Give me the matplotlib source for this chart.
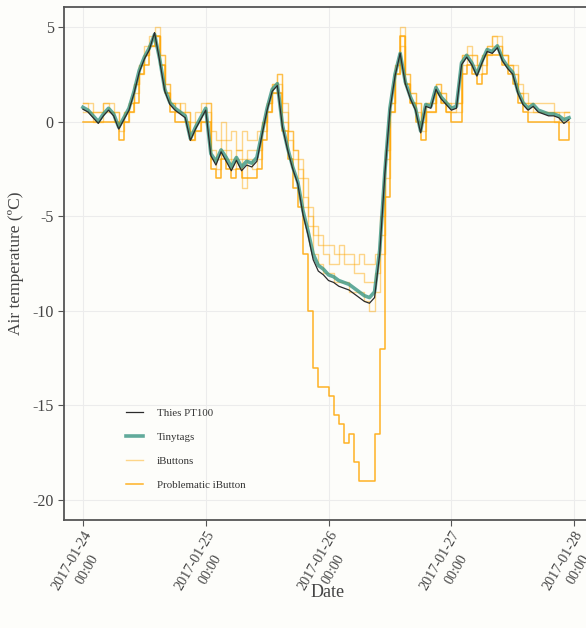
import numpy as np
import pandas as pd
import matplotlib
matplotlib.use("Agg")
import matplotlib.pyplot as plt
import matplotlib.transforms as mtransforms

plt.rcParams['font.family'] = ['Liberation Serif', 'DejaVu Serif']

# hourly readings, 2017-01-24 00:00 onwards
times = pd.date_range("2017-01-24 00:00", periods=96, freq="h")

pt100 = [0.65, 0.5, 0.2, -0.1, 0.3, 0.6, 0.3, -0.4, 0.1, 0.6, 1.5, 2.6, 3.3, 3.8, 4.7, 3.2, 1.6, 0.9, 0.6, 0.4, 0.2, -1.0, -0.4, 0.1,
         0.6, -1.8, -2.3, -1.6, -2.1, -2.6, -2.05, -2.6, -2.3, -2.4, -2.1, -0.7, 0.6, 1.6, 1.9, -0.3, -1.5, -2.5, -3.3, -4.9, -6.0, -7.3, -7.9, -8.1,
         -8.4, -8.5, -8.7, -8.8, -8.9, -9.1, -9.3, -9.5, -9.6, -9.3, -7.0, -2.8, 0.6, 2.4, 3.6, 2.0, 1.2, 0.6, -0.6, 0.8, 0.7, 1.7, 1.2, 0.9,
         0.6, 0.7, 3.0, 3.4, 3.0, 2.4, 3.1, 3.7, 3.6, 3.9, 3.2, 2.8, 2.5, 1.5, 0.9, 0.6, 0.8, 0.5, 0.4, 0.3, 0.3, 0.2, -0.1, 0.1]

tinytag = [0.75, 0.6, 0.3, 0.0, 0.4, 0.7, 0.4, -0.3, 0.2, 0.7, 1.6, 2.7, 3.4, 3.9, 4.6, 3.3, 1.7, 1.0, 0.7, 0.5, 0.3, -0.9, -0.3, 0.2,
           0.7, -1.7, -2.1, -1.5, -1.9, -2.4, -1.9, -2.4, -2.1, -2.2, -1.9, -0.6, 0.7, 1.7, 2.0, -0.2, -1.4, -2.4, -3.2, -4.7, -5.8, -7.0, -7.6, -7.8,
           -8.1, -8.2, -8.4, -8.5, -8.6, -8.8, -9.0, -9.2, -9.3, -9.0, -6.8, -2.7, 0.7, 2.5, 3.6, 2.1, 1.3, 0.7, -0.5, 0.9, 0.8, 1.8, 1.3, 1.0,
           0.7, 0.8, 3.1, 3.5, 3.1, 2.5, 3.2, 3.8, 3.7, 4.0, 3.3, 2.9, 2.6, 1.6, 1.0, 0.7, 0.9, 0.6, 0.5, 0.4, 0.4, 0.3, 0.1, 0.2]

ibutton_a = [1.0, 1.0, 0.5, 0.5, 1.0, 1.0, 0.5, 0.0, 0.5, 1.0, 2.0, 3.0, 4.0, 4.5, 5.0, 3.5, 2.0, 1.0, 1.0, 0.5, 0.5, 0.0, 0.5, 1.0,
             1.0, -0.5, -1.0, 0.0, -1.0, -0.5, -1.5, -0.5, -1.0, -1.0, -0.5, 0.0, 1.0, 2.0, 2.5, 1.0, -0.5, -1.5, -2.0, -3.0, -4.5, -5.5, -6.0, -6.5,
             -6.5, -7.0, -6.5, -7.0, -7.0, -7.5, -7.0, -7.5, -7.5, -7.0, -5.0, -1.5, 1.0, 3.0, 5.0, 2.5, 1.5, 1.0, 0.0, 1.0, 1.0, 2.0, 1.5, 1.0,
             1.0, 1.0, 3.5, 4.0, 3.5, 3.0, 3.5, 4.0, 4.5, 4.5, 3.5, 3.0, 3.0, 2.0, 1.5, 1.0, 1.0, 1.0, 1.0, 1.0, 0.5, 0.5, 0.5, 0.5]

ibutton_b = [0.5, 0.5, 0.0, 0.0, 0.5, 0.5, 0.0, -0.5, 0.0, 0.5, 1.5, 2.5, 3.5, 4.0, 4.5, 3.0, 1.5, 1.0, 0.5, 0.5, 0.0, -1.0, -0.5, 0.0,
             0.5, -2.0, -2.5, -1.5, -2.0, -2.5, -2.0, -3.5, -2.0, -2.5, -2.0, -0.5, 0.5, 1.5, 2.0, 0.0, -1.0, -2.0, -3.0, -4.5, -5.5, -7.0, -7.5, -8.0,
             -8.0, -8.5, -8.5, -8.5, -9.0, -9.0, -9.0, -9.5, -10.0, -9.0, -7.0, -3.0, 0.5, 2.5, 4.0, 2.0, 1.0, 0.5, -0.5, 0.5, 0.5, 1.5, 1.0, 0.5,
             0.5, 0.5, 3.0, 3.5, 3.0, 2.5, 3.0, 3.5, 4.0, 4.0, 3.5, 3.0, 2.5, 1.5, 1.0, 0.5, 0.5, 0.5, 0.5, 0.5, 0.5, 0.0, 0.0, 0.0]

ibutton_c = [1.0, 0.5, 0.5, 0.5, 1.0, 0.5, 0.5, 0.0, 0.5, 1.0, 2.0, 3.0, 3.5, 4.0, 4.5, 3.5, 2.0, 1.0, 0.5, 1.0, 0.5, -0.5, 0.0, 0.5,
             1.0, -1.5, -2.0, -1.0, -1.5, -2.0, -1.5, -2.0, -1.5, -1.5, -1.5, 0.0, 1.0, 2.0, 2.5, 0.5, -0.5, -1.5, -2.5, -4.0, -5.0, -6.0, -6.5, -7.0,
             -7.5, -7.5, -7.0, -7.5, -7.5, -8.0, -8.0, -8.5, -8.5, -8.0, -6.0, -2.0, 1.0, 3.0, 4.5, 2.5, 1.5, 1.0, 0.0, 1.0, 1.0, 2.0, 1.5, 1.0,
             0.5, 1.0, 3.5, 3.5, 3.5, 3.0, 3.5, 4.0, 4.5, 4.0, 3.5, 3.0, 2.5, 1.5, 1.0, 1.0, 0.5, 0.5, 0.5, 0.5, 0.0, 0.0, 0.5, 0.5]

problematic = [0.0, 0.0, 0.0, 0.0, 0.0, 0.0, 0.0, -1.0, 0.0, 0.5, 1.0, 2.5, 3.0, 4.0, 4.5, 3.0, 1.5, 0.5, 0.0, 0.0, 0.0, -1.0, -0.5, 0.0,
               0.0, -2.5, -3.0, -2.0, -2.5, -3.0, -2.5, -3.0, -3.0, -3.0, -2.5, -1.0, 0.5, 1.5, 1.5, -0.5, -2.0, -3.5, -4.5, -7.0, -10.0, -13.0, -14.0, -14.0,
               -14.5, -15.5, -16.0, -17.0, -16.5, -18.0, -19.0, -19.0, -19.0, -16.5, -12.0, -4.0, 0.5, 2.5, 4.5, 2.0, 1.0, 0.0, -1.0, 0.5, 0.5, 1.5, 1.0, 0.5,
               0.0, 0.0, 2.5, 3.0, 2.5, 2.0, 2.5, 3.5, 3.5, 3.5, 3.0, 2.5, 2.0, 1.0, 0.5, 0.0, 0.0, 0.0, 0.0, 0.0, 0.0, -1.0, -1.0, 0.0]

ibuttons = [ibutton_a, ibutton_b, ibutton_c]

bg = '#fdfdfa'
fig = plt.figure(figsize=(5.86, 6.28), dpi=100, facecolor=bg)
ax = fig.add_axes([64/586, 108/628, 527/586, 513/628], facecolor=bg)

for k, ib in enumerate(ibuttons):
    ax.plot(times, ib, drawstyle='steps-post', color='#FFA500', alpha=0.45, lw=1.0,
            label='iButtons' if k == 0 else None, zorder=2)
ax.plot(times, problematic, drawstyle='steps-post', color='#FFA500', alpha=0.85, lw=1.1,
        label='Problematic iButton', zorder=3)
ax.plot(times, tinytag, color='#3a9683', alpha=0.8, lw=2.6, label='Tinytags', zorder=4)
ax.plot(times, pt100, color='#2b2b2b', lw=0.9, label='Thies PT100', zorder=5)

d0 = pd.Timestamp("2017-01-24")
ax.set_xlim(d0 - pd.Timedelta(hours=3.7), pd.Timestamp("2017-01-28") + pd.Timedelta(hours=3.3))
ax.set_ylim(-21.05, 6.05)

ticks = pd.date_range("2017-01-24", "2017-01-28", freq="D")
ax.set_xticks(ticks)
ax.set_xticklabels([t.strftime("%Y-%m-%d\n%H:%M") for t in ticks], rotation=60,
                   ha='right', va='top', rotation_mode='anchor', multialignment='center',
                   linespacing=1.5)
# nudge the rotated labels so the date ends right under the tick
shift = mtransforms.ScaledTranslation(-0.06, 0.05, fig.dpi_scale_trans)
for lab in ax.get_xticklabels():
    lab.set_transform(lab.get_transform() + shift)

ax.set_yticks([5, 0, -5, -10, -15, -20])
ax.set_yticklabels(['5', '0', '-5', '-10', '-15', '-20'])

ax.grid(True, color='#ececec', lw=0.8)
ax.set_axisbelow(True)
ax.tick_params(axis='y', labelsize=11.5, colors='#555555', labelcolor='#444444', length=4, width=0.8)
ax.tick_params(axis='x', labelsize=10.3, colors='#555555', labelcolor='#444444', length=4, width=0.8, pad=2)
for s in ['left', 'bottom', 'top', 'right']:
    ax.spines[s].set_color('#555555')
    ax.spines[s].set_linewidth(1.3)

ax.set_xlabel('Date', fontsize=13, color='#444444', va='center')
ax.xaxis.set_label_coords(0.5, -0.142)
ax.set_ylabel('Air temperature (ºC)', fontsize=12.5, color='#444444', va='center')
ax.yaxis.set_label_coords(-0.092, 0.5)

handles, labels = ax.get_legend_handles_labels()
order = ['Thies PT100', 'Tinytags', 'iButtons', 'Problematic iButton']
hmap = dict(zip(labels, handles))
leg = ax.legend([hmap[o] for o in order], order, loc='lower left', bbox_to_anchor=(0.1, 0.039),
                frameon=False, fontsize=7.8, handlelength=1.5, labelspacing=1.35, handletextpad=1.3)
for t in leg.get_texts():
    t.set_color('#333333')

fig.savefig('out.png', dpi=100, facecolor=bg)
